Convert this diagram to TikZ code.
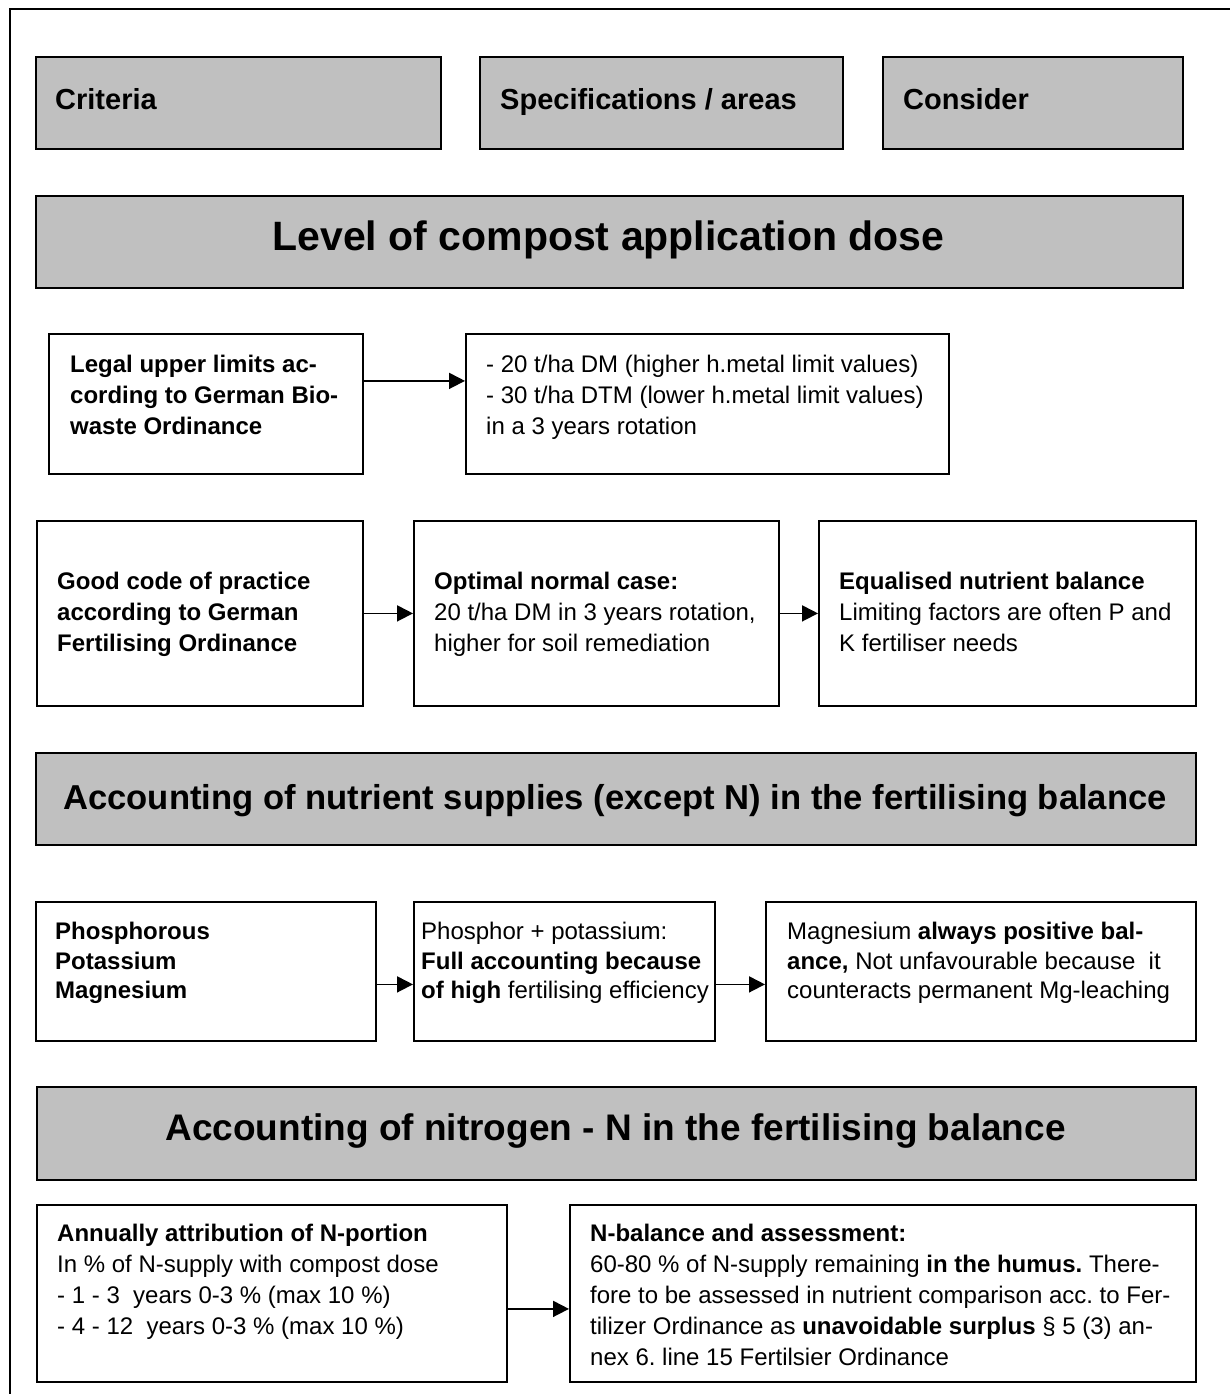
\documentclass[tikz,border=0pt]{standalone}
\usepackage{fontspec}
\setmainfont{Liberation Sans}
\usetikzlibrary{arrows.meta}
\frenchspacing
\newcommand\bodyfont{\fontsize{24}{31}\selectfont\frenchspacing}
\newcommand\rowthreefont{\fontsize{24}{29.5}\selectfont\frenchspacing}
\newcommand\topfont{\fontsize{29}{34}\selectfont\bfseries}
\newcommand\headfont{\fontsize{37}{42}\selectfont\bfseries}
\newcommand\headfonta{\fontsize{41}{46}\selectfont\bfseries}
\newcommand\headfontb{\fontsize{34.6}{40}\selectfont\bfseries}
\definecolor{boxgray}{RGB}{192,192,192}
\tikzset{
  graybox/.style={draw=black, line width=2pt, fill=boxgray, anchor=north west, inner sep=0pt, rectangle},
  whitebox/.style={draw=black, line width=1.8pt, fill=white, anchor=north west, inner sep=0pt, rectangle},
  txt/.style={anchor=north west, inner sep=0pt, align=left, font=\bodyfont},
  txtthree/.style={anchor=north west, inner sep=0pt, align=left, font=\rowthreefont},
  toptxt/.style={anchor=base west, inner sep=0pt, font=\topfont},
  headtxt/.style={anchor=base, inner sep=0pt, font=\headfont},
  arr/.style={line width=1.8pt, -{Triangle[length=16pt,width=16pt]}},
  frameline/.style={line width=2pt, draw=black}
}
\begin{document}
\begin{tikzpicture}[x=1pt,y=-1pt]
\useasboundingbox (0,0) rectangle (1229,1394);
\draw[frameline] (10,1420) -- (10,9) -- (1260,9);

% top row
\node[graybox, minimum width=405, minimum height=92] (crit) at (35,56) {};
\node[toptxt] (critt) at (55,110) {Criteria};
\node[graybox, minimum width=363, minimum height=92] (spec) at (479,56) {};
\node[toptxt] (spect) at (500,110) {Specifications / areas};
\node[graybox, minimum width=300, minimum height=92] (cons) at (882,56) {};
\node[toptxt] (const) at (903,110) {Consider};

% header 1
\node[graybox, minimum width=1147, minimum height=92] (h1) at (35,195) {};
\node[headtxt, font=\headfonta] (h1t) at (608.5,250) {Level of compost application dose};

% row 1
\node[whitebox, minimum width=314, minimum height=140] (legal) at (48,333) {};
\node[txt] (legalt) at (70,351) {\bfseries\strut Legal upper limits ac-\\\bfseries cording to German Bio-\\\bfseries waste Ordinance};
\node[whitebox, minimum width=483, minimum height=140] (limits) at (465,333) {};
\node[txt] (limitst) at (486,351) {\strut - 20 t/ha DM (higher h.metal limit values)\\- 30 t/ha DTM (lower h.metal limit values)\\in a 3 years rotation};
\draw[arr] ([yshift=23pt]legal.east) -- ([yshift=23pt]limits.west);

% row 2
\node[whitebox, minimum width=326, minimum height=185] (good) at (36,520) {};
\node[txt] (goodt) at (57,568) {\bfseries\strut Good code of practice\\\bfseries according to German\\\bfseries Fertilising Ordinance};
\node[whitebox, minimum width=365, minimum height=185] (optimal) at (413,520) {};
\node[txt] (optimalt) at (434,568) {\bfseries\strut Optimal normal case:\\20 t/ha DM in 3 years rotation,\\higher for soil remediation};
\node[whitebox, minimum width=377, minimum height=185] (equal) at (818,520) {};
\node[txt] (equalt) at (839,568) {\bfseries\strut Equalised nutrient balance\\Limiting factors are often P and\\K fertiliser needs};
\draw[arr] (good.east) -- (optimal.west);
\draw[arr] (optimal.east) -- (equal.west);

% header 2
\node[graybox, minimum width=1160, minimum height=92] (h2) at (35,752) {};
\node[headtxt, font=\headfontb] (h2t) at (615,809) {Accounting of nutrient supplies (except N) in the fertilising balance};

% row 3
\node[whitebox, minimum width=340, minimum height=139] (phos) at (35,901) {};
\node[txtthree] (phost) at (55,919) {\bfseries\strut Phosphorous\\\bfseries Potassium\\\bfseries Magnesium};
\node[whitebox, minimum width=301, minimum height=139] (full) at (413,901) {};
\node[txtthree] (fullt) at (421,919) {\strut Phosphor + potassium:\\\textbf{Full accounting because}\\\textbf{of high} fertilising efficiency};
\node[whitebox, minimum width=430, minimum height=139] (mg) at (765,901) {};
\node[txtthree] (mgt) at (787,919) {\strut Magnesium \textbf{always positive bal-}\\\textbf{ance,} Not unfavourable because~ it\\counteracts permanent Mg-leaching};
\draw[arr] ([yshift=-13pt]phos.east) -- ([yshift=-13pt]full.west);
\draw[arr] ([yshift=-13pt]full.east) -- ([yshift=-13pt]mg.west);

% header 3
\node[graybox, minimum width=1159, minimum height=93] (h3) at (36,1086) {};
\node[headtxt] (h3t) at (615.5,1140) {Accounting of nitrogen - N in the fertilising balance};

% row 4
\node[whitebox, minimum width=470, minimum height=177] (annual) at (36,1204) {};
\node[txt] (annualt) at (57,1220) {\bfseries\strut Annually attribution of N-portion\\In \% of N-supply with compost dose\\- 1 - 3~ years 0-3 \% (max 10 \%)\\- 4 - 12~ years 0-3 \% (max 10 \%)};
\node[whitebox, minimum width=626, minimum height=177] (nbal) at (569,1204) {};
\node[txt] (nbalt) at (590,1220) {\bfseries\strut N-balance and assessment:\\60-80 \% of N-supply remaining \textbf{in the humus.} There-\\fore to be assessed in nutrient comparison acc. to Fer-\\tilizer Ordinance as \textbf{unavoidable surplus} § 5 (3) an-\\nex 6. line 15 Fertilsier Ordinance};
\draw[arr] ([yshift=-15.5pt]annual.east) -- ([yshift=-15.5pt]nbal.west);
\end{tikzpicture}
\end{document}
